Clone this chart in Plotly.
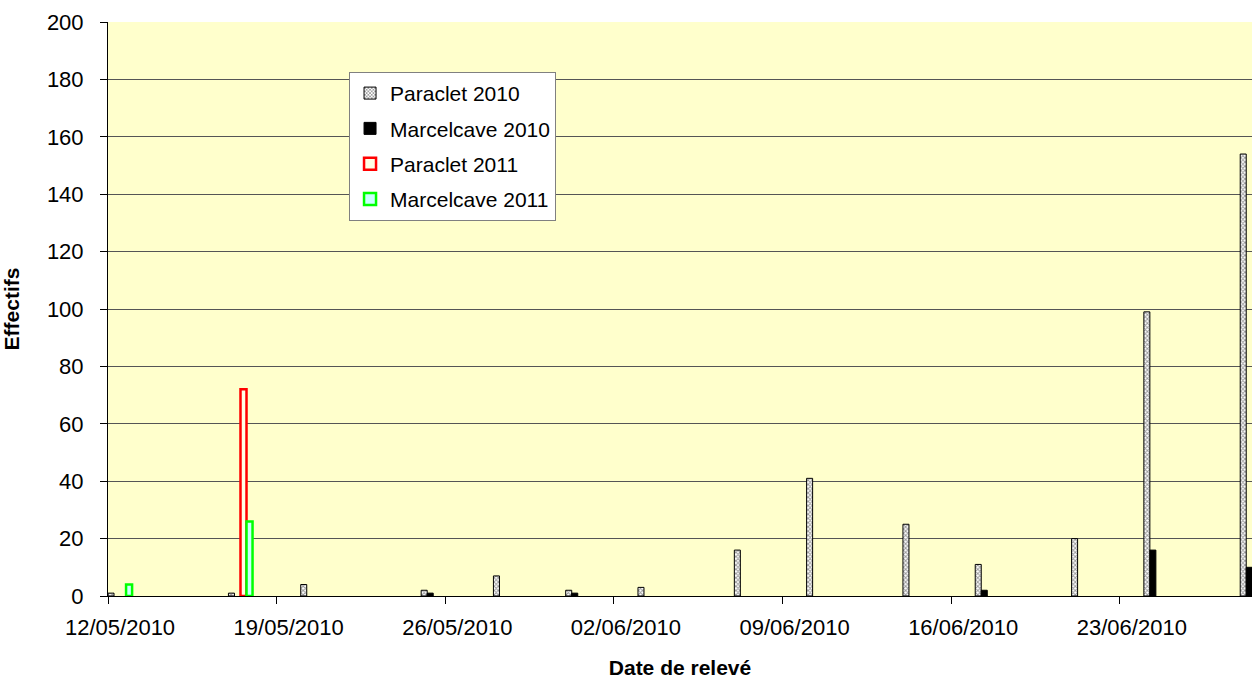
import plotly.graph_objects as go

# ---- data ----
paraclet_2010_dates = ["2010-05-12", "2010-05-17", "2010-05-20", "2010-05-25", "2010-05-28",
                       "2010-05-31", "2010-06-03", "2010-06-07", "2010-06-10", "2010-06-14",
                       "2010-06-17", "2010-06-21", "2010-06-24", "2010-06-28"]
paraclet_2010_values = [1, 1, 4, 2, 7, 2, 3, 16, 41, 25, 11, 20, 99, 154]

marcelcave_2010_dates = ["2010-05-25", "2010-05-31", "2010-06-17", "2010-06-24", "2010-06-28"]
marcelcave_2010_values = [1, 1, 2, 16, 10]

paraclet_2011_dates = ["2010-05-17"]
paraclet_2011_values = [72]

marcelcave_2011_dates = ["2010-05-12", "2010-05-17"]
marcelcave_2011_values = [4, 26]

y_ticks = [0, 20, 40, 60, 80, 100, 120, 140, 160, 180, 200]

# ---- styling ----
FONT = "Liberation Sans, Arial, sans-serif"
DAY = 86400000
SLOT = DAY // 4  # one quarter of a day per series

fig = go.Figure()

fig.add_trace(go.Bar(
    name="Paraclet 2010", x=paraclet_2010_dates, y=paraclet_2010_values,
    width=SLOT, offset=0 * SLOT, legendgroup="a",
    marker=dict(color="white", line=dict(color="black", width=1),
                pattern=dict(shape="x", fgcolor="#333333", bgcolor="white", size=3, solidity=0.55)),
))
fig.add_trace(go.Bar(
    name="Marcelcave 2010", x=marcelcave_2010_dates, y=marcelcave_2010_values,
    width=SLOT, offset=1 * SLOT, legendgroup="b",
    marker=dict(color="black", line=dict(color="black", width=1)),
))
fig.add_trace(go.Bar(
    name="Paraclet 2011", x=paraclet_2011_dates, y=paraclet_2011_values,
    width=SLOT, offset=2 * SLOT, legendgroup="c",
    marker=dict(color="#FFFFE6", line=dict(color="#FF0000", width=2.5)),
))
fig.add_trace(go.Bar(
    name="Marcelcave 2011", x=marcelcave_2011_dates, y=marcelcave_2011_values,
    width=SLOT, offset=3 * SLOT, legendgroup="d",
    marker=dict(color="#CCFFFF", line=dict(color="#00FF00", width=2.5)),
))

fig.update_layout(
    width=1252, height=679,
    margin=dict(l=108, r=0, t=22, b=83),
    paper_bgcolor="white", plot_bgcolor="#FFFFCC",
    barmode="overlay",
    font=dict(family=FONT, size=21, color="black"),
    legend=dict(
        x=0.2107, y=0.913, xanchor="left", yanchor="top",
        bgcolor="white", bordercolor="#808080", borderwidth=1,
        font=dict(family=FONT, size=21, color="black"),
        traceorder="grouped", tracegroupgap=5,
    ),
    showlegend=True,
)

fig.update_xaxes(
    type="date",
    range=["2010-05-12", "2010-06-28 11:45"],
    tick0="2010-05-12 12:00", dtick=7 * DAY,
    tickformat="%d/%m/%Y",
    ticks="outside", ticklen=0, tickcolor="black",
    minor=dict(tick0="2010-05-12", dtick=7 * DAY, ticks="outside", ticklen=7,
               tickcolor="black", showgrid=False),
    showline=True, linecolor="black", linewidth=1,
    showgrid=False, zeroline=False,
    tickfont=dict(family=FONT, size=22),
    ticklabelstandoff=12,
    title=dict(text="<b>Date de relevé</b>", font=dict(family=FONT, size=21), standoff=20),
)
fig.update_yaxes(
    range=[0, 200], tickvals=y_ticks,
    ticks="outside", ticklen=7, tickcolor="black",
    showline=True, linecolor="black", linewidth=1,
    showgrid=True, gridcolor="#555555", gridwidth=1,
    zeroline=False,
    tickfont=dict(family=FONT, size=22),
    ticklabelstandoff=12,
    title=dict(text="<b>Effectifs</b>", font=dict(family=FONT, size=21), standoff=22),
)

fig.write_html(
    "out.html",
    config={"displayModeBar": False},
    post_script="document.body.style.margin='0';document.body.style.overflow='hidden';",
)
